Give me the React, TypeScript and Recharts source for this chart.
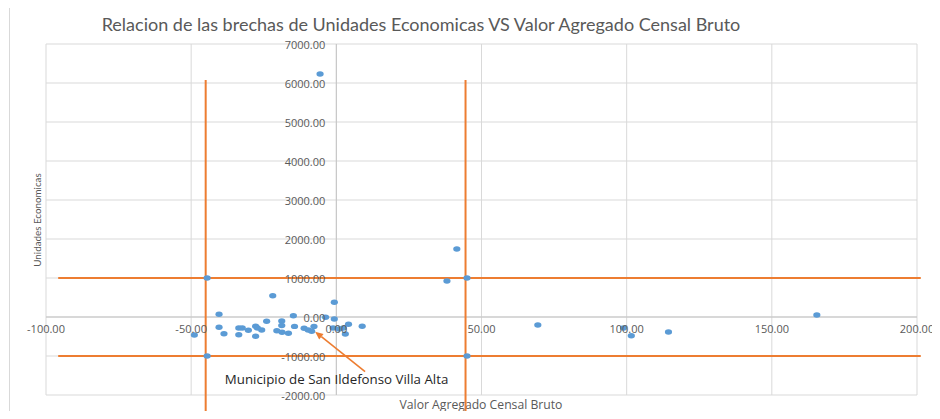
import { ScatterChart, Scatter, XAxis, YAxis, CartesianGrid, ReferenceLine } from 'recharts';

const chartTitle = 'Relacion de las brechas de Unidades Economicas VS Valor Agregado Censal Bruto';
const xTitle = 'Valor Agregado Censal Bruto';
const yTitle = 'Unidades Economicas';
const noteText = 'Municipio de San Ildefonso Villa Alta';

const xTicks = [-100, -50, 0, 50, 100, 150, 200];
const yTicks = [-2000, -1000, 0, 1000, 2000, 3000, 4000, 5000, 6000, 7000];

// brechas: valor agregado (x) vs unidades economicas (y)
const valorAgregado = [
  -48.9, -44.5, -44.5, -40.4, -40.4, -38.7, -33.6, -32.4, -33.6, -30.3,
  -27.8, -27.2, -27.8, -25.7, -24.0, -21.9, -20.5, -18.8, -18.8, -18.7,
  -16.5, -14.8, -14.4, -11.1, -9.7, -8.5, -7.7, -5.6, -3.7, -0.7,
  -0.7, -1.1, 0.9, 2.4, 3.1, 4.2, 8.9, 38.1, 41.5, 45.0,
  45.0, 69.4, 98.9, 101.6, 114.4, 165.5,
];
const unidades = [
  -462, 1000, -1000, 69, -264, -428, -282, -282, -454, -341,
  -238, -282, -495, -333, -108, 546, -354, -103, -218, -390,
  -418, 33, -241, -290, -333, -367, -244, 6230, -8, 377,
  -51, -282, -308, -282, -436, -185, -238, 923, 1744, 1000,
  -1000, -205, -282, -479, -385, 51,
];

// limites de las brechas
const brechaX = [-45, 44.5];
const brechaY = [1000, -1000];
const brechaXSpan = [-95.8, 201.3];
const brechaYSpan = [6080, -2700];

// municipio senalado
const notePoint = { x: -7.3, y: -377 };
const noteTail = { x: 9.9, y: -1403 };

const data = valorAgregado.map((x, i) => ({ x, y: unidades[i] }));

const W = 940;
const H = 419;
const margin = { top: 44, right: 23, bottom: 23, left: 45 };
const plotLeft = 46;
const plotTop = 44;
const plotW = 871;
const plotH = 351;
const X0 = plotLeft + (plotW * 100) / 300;
const Y0 = plotTop + (plotH * 7000) / 9000;

const orange = '#ed7d31';
const blue = '#5b9bd5';
const labelColor = '#595959';
const tickFont = "'Open Sans', sans-serif";

const XTick = (props: any) => (
  <text
    x={props.x}
    y={Y0 + 16}
    textAnchor="middle"
    fill={labelColor}
    fontSize={11}
    fontFamily={tickFont}
  >
    {props.payload.value.toFixed(2)}
  </text>
);

const YTick = (props: any) => (
  <text
    x={X0 - 11}
    y={props.y}
    textAnchor="end"
    dominantBaseline="central"
    fill={labelColor}
    fontSize={11}
    fontFamily={tickFont}
  >
    {props.payload.value.toFixed(2)}
  </text>
);

const Dot = (props: any) => <ellipse cx={props.cx} cy={props.cy} rx={3.6} ry={2.7} fill={blue} />;

const NoteArrow = (props: any) => {
  const { x1, y1, x2, y2 } = props;
  const dx = x1 - x2;
  const dy = y1 - y2;
  const len = Math.sqrt(dx * dx + dy * dy) || 1;
  const ux = dx / len;
  const uy = dy / len;
  const head = 8;
  const half = 3.5;
  const bx = x1 - ux * head;
  const by = y1 - uy * head;
  return (
    <g>
      <line x1={x2} y1={y2} x2={bx} y2={by} stroke={orange} strokeWidth={1.6} />
      <polygon
        points={`${x1},${y1} ${bx - uy * half},${by + ux * half} ${bx + uy * half},${by - ux * half}`}
        fill={orange}
      />
      <text
        x={x2 - 28.5}
        y={y2 + 7.6}
        textAnchor="middle"
        dominantBaseline="central"
        fill="#262626"
        fontSize={13.3}
        fontFamily={tickFont}
      >
        {noteText}
      </text>
    </g>
  );
};

export default function App() {
  return (
    <div style={{ margin: -8, width: W, height: H, position: 'relative', background: '#fff', overflow: 'hidden' }}>
      <div
        style={{
          position: 'absolute',
          left: 9,
          top: 7,
          width: W,
          height: H,
          borderLeft: '1px solid #d9d9d9',
          borderTop: '1px solid #d9d9d9',
        }}
      />
      <svg width={W} height={H} style={{ position: 'absolute', left: 0, top: 0 }}>
        <text x={421} y={24} textAnchor="middle" dominantBaseline="central" fill={labelColor} fontSize={18} fontFamily="Lato, sans-serif">
          {chartTitle}
        </text>
        <text x={481} y={404} textAnchor="middle" dominantBaseline="central" fill={labelColor} fontSize={12.2} fontFamily={tickFont}>
          {xTitle}
        </text>
        <text
          x={37}
          y={220}
          textAnchor="middle"
          dominantBaseline="central"
          fill={labelColor}
          fontSize={9.8}
          fontFamily="Lato, sans-serif"
          transform="rotate(-90 37 220)"
        >
          {yTitle}
        </text>
      </svg>
      <div style={{ position: 'absolute', left: 0, top: 0 }}>
        <ScatterChart width={W} height={H} margin={margin}>
          <CartesianGrid stroke="#d9d9d9" />
          <XAxis
            type="number"
            dataKey="x"
            domain={[-100, 200]}
            ticks={xTicks}
            interval={0}
            height={1}
            axisLine={false}
            tickLine={false}
            tick={XTick}
          />
          <YAxis
            type="number"
            dataKey="y"
            domain={[-2000, 7000]}
            ticks={yTicks}
            interval={0}
            width={1}
            axisLine={false}
            tickLine={false}
            tick={YTick}
          />
          <ReferenceLine x={0} stroke="#c4c4c4" />
          <ReferenceLine y={0} stroke="#c4c4c4" />
          <Scatter data={data} fill={blue} shape={Dot} isAnimationActive={false} />
          {brechaX.map((bx) => (
            <ReferenceLine
              key={`bx${bx}`}
              segment={[
                { x: bx, y: brechaYSpan[0] },
                { x: bx, y: brechaYSpan[1] },
              ]}
              stroke={orange}
              strokeWidth={2}
              ifOverflow="visible"
            />
          ))}
          {brechaY.map((by) => (
            <ReferenceLine
              key={`by${by}`}
              segment={[
                { x: brechaXSpan[0], y: by },
                { x: brechaXSpan[1], y: by },
              ]}
              stroke={orange}
              strokeWidth={2}
              ifOverflow="visible"
            />
          ))}
          <ReferenceLine segment={[notePoint, noteTail]} ifOverflow="visible" shape={NoteArrow} />
        </ScatterChart>
      </div>
    </div>
  );
}
